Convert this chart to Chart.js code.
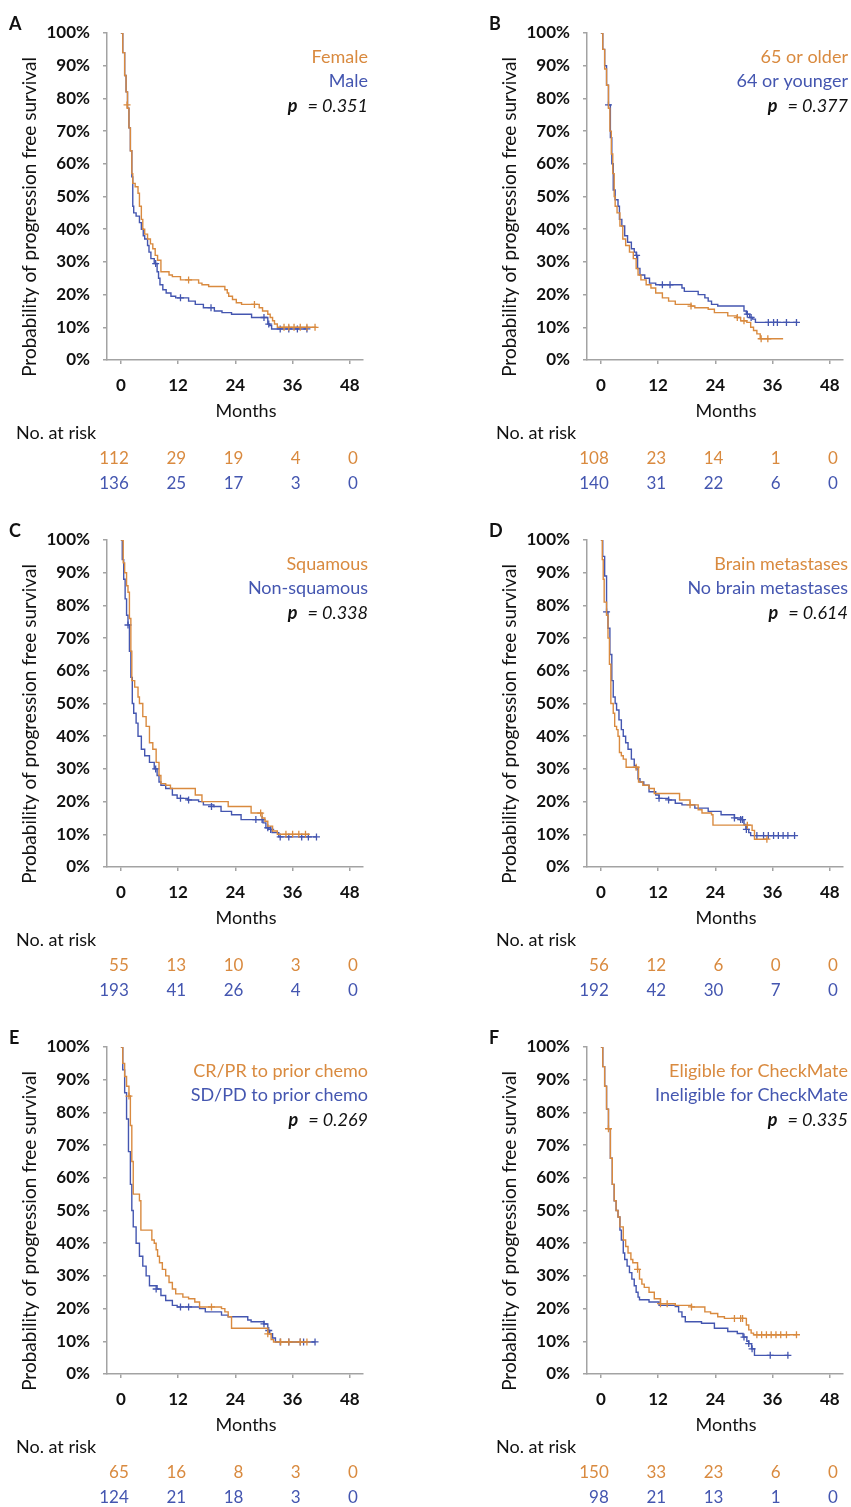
<!DOCTYPE html>
<html>
<head>
<meta charset="utf-8">
<script src="https://cdn.jsdelivr.net/npm/chart.js@4.4.0/dist/chart.umd.min.js"></script>
<style>
  html, body { margin: 0; padding: 0; background: #fff; }
  body { width: 851px; height: 1507px; position: relative; overflow: hidden; }
  .panel { position: absolute; width: 371px; height: 500px; }
</style>
</head>
<body>
<div class="panel" style="left:0;top:0"><canvas id="chartA" width="371" height="500"></canvas></div>
<div class="panel" style="left:480px;top:0"><canvas id="chartB" width="371" height="500"></canvas></div>
<div class="panel" style="left:0;top:507px"><canvas id="chartC" width="371" height="500"></canvas></div>
<div class="panel" style="left:480px;top:507px"><canvas id="chartD" width="371" height="500"></canvas></div>
<div class="panel" style="left:0;top:1014px"><canvas id="chartE" width="371" height="500"></canvas></div>
<div class="panel" style="left:480px;top:1014px"><canvas id="chartF" width="371" height="500"></canvas></div>
<script>
// Kaplan-Meier PFS panels ([month, % free])
const monthTicks = [0, 12, 24, 36, 48];

// A - sex
const aFemale = [[0,100],[0.4,94],[0.8,87],[1.1,82],[1.4,77],[1.7,71],[2.0,64],[2.3,57],[2.5,54],[3.0,53],[3.6,51],[3.9,47],[4.3,43],[4.6,40],[5.0,38.5],[5.6,37],[6.2,35.5],[6.7,34],[7.2,32],[7.7,30.5],[8.4,27],[10.1,26],[10.8,25.5],[12.5,24.5],[16.3,23.5],[17,23],[18.4,22.5],[21.8,21.5],[22.3,20.5],[22.6,19.5],[23.4,18.5],[24.2,17.5],[25.3,17],[29,16],[29.7,15],[30.8,14],[31.3,13],[31.8,12],[32.2,11],[32.8,10],[41,10]];
const aFemaleCens = [[1.3,78],[14.2,24.5],[28,17],[34.2,10],[35.2,10],[36.3,10],[37.6,10],[39,10],[40.7,10]];
const aMale = [[0,100],[0.4,94],[0.8,87],[1.1,82],[1.4,77],[1.7,71],[2.0,64],[2.3,56],[2.5,47],[2.7,45],[3.2,44],[3.9,42],[4.3,40],[4.7,38],[5.0,37],[5.6,35],[5.9,33],[6.3,31],[7.0,29.5],[7.6,27],[7.9,25],[8.2,23],[8.8,21.5],[9.5,20.5],[10.5,19.5],[11.5,19],[14.2,18],[15.6,17],[17.3,16],[19.6,15],[21.2,14.5],[23.2,14],[27.4,13],[30.8,11],[31.2,10.5],[31.6,9.5],[39,9.5]];
const aMaleCens = [[7.3,29.5],[12.5,19],[18.9,16],[30,13],[31,11],[33.4,9.5],[35.2,9.5],[37,9.5],[39,9.5]];
const aRiskTop = [112, 29, 19, 4, 0];
const aRiskBottom = [136, 25, 17, 3, 0];

// B - age
const bOlder = [[0,100],[0.4,95],[0.8,89],[1.2,84],[1.6,77],[1.9,70],[2.2,63],[2.5,57],[2.8,50],[3.0,47],[3.4,45],[4.0,41],[4.6,37],[5.2,35],[6.0,33],[6.8,31],[7.4,28],[7.8,26],[8.4,24.5],[9.5,23],[10.5,22],[11.5,20.5],[12.9,19],[14.2,18],[15.6,17],[18.9,16.5],[19.7,16],[22.5,15.5],[23.8,14.5],[26.6,13.5],[28.5,13],[29.3,12],[30.6,11.5],[31.4,10],[32,9],[32.7,8],[33.4,6.5],[38.2,6.5]];
const bOlderCens = [[18.9,16.5],[28.6,13],[30,12],[33.6,6.5],[35,6.5]];
const bYounger = [[0,100],[0.4,95],[0.8,90],[1.2,84],[1.6,78],[2.0,68],[2.3,60],[2.6,52],[3.0,49],[3.6,47],[3.9,43],[4.4,41],[5.0,38],[5.6,36],[6.4,34],[7.0,33],[7.4,32],[7.7,28],[8.2,26],[9.2,25],[10.2,23.5],[11.5,23],[17,22],[17.5,21],[20.4,20],[21.8,19],[22.5,18],[23.2,17],[24.5,16.5],[30.0,15],[30.5,14],[31.2,13],[31.8,12.5],[32.4,11.5],[41.2,11.5]];
const bYoungerCens = [[1.6,78],[7.5,32],[12.9,23],[14.5,23],[30.7,14],[31.5,13],[35.1,11.5],[36.2,11.5],[37,11.5],[38.9,11.5],[41,11.5]];
const bRiskTop = [108, 23, 14, 1, 0];
const bRiskBottom = [140, 31, 22, 6, 0];

// C - histology
const cSquamous = [[0,100],[0.5,93],[0.8,90],[1.2,86],[1.5,84],[1.8,76],[2.1,66],[2.3,57],[2.9,55],[3.6,52],[3.9,50],[4.6,46],[5.3,43],[6.0,38],[6.7,36],[7.4,32],[8.0,28],[8.4,25.5],[9.4,25],[10.4,24],[15.6,22],[17.0,20],[22.5,18.5],[27.3,16.5],[29.6,15],[30.2,14],[30.8,12.5],[31.8,11],[32.8,10],[39.6,10]];
const cSquamousCens = [[29.3,16.5],[34.6,10],[36,10],[37.3,10],[38.7,10]];
const cNonSquamous = [[0,100],[0.3,94],[0.6,88],[0.9,82],[1.2,77],[1.5,74],[1.8,66],[2.1,58],[2.4,50],[2.7,47],[3.2,44],[3.6,40],[4.3,36],[5.0,34],[6.0,32],[7.0,30],[7.6,28],[8.0,26],[8.4,25],[9.4,24],[10.8,22],[11.8,21],[14.0,20.5],[16.3,20],[17.3,19],[19.5,18.5],[21.0,17],[23.2,16],[25.2,14.5],[29.8,13.5],[30.4,12],[31.0,11.5],[31.7,10.5],[33.1,9.2],[41,9.2]];
const cNonSquamousCens = [[1.5,74],[7.3,30],[12.5,21],[14.2,20.5],[19,18.5],[28.3,14.5],[29.6,14.5],[30.8,12],[31.4,11.5],[33.4,9.2],[35.2,9.2],[37.9,9.2],[39.3,9.2],[41,9.2]];
const cRiskTop = [55, 13, 10, 3, 0];
const cRiskBottom = [193, 41, 26, 4, 0];

// D - brain metastases
const dBrain = [[0,100],[0.3,94],[0.5,88],[0.7,81],[1.2,77],[1.5,70],[1.8,62],[2.1,50],[2.6,47],[2.9,43],[3.3,42],[3.6,40],[3.9,35],[4.3,34],[4.7,33],[5.3,30.5],[7.6,30.5],[7.9,26],[8.8,25],[10.1,24],[11.2,22.5],[16.3,22.5],[16.5,20.5],[18.7,19],[20.4,17.5],[21.2,16.5],[23.2,16],[23.5,12.8],[30.7,12.8],[31.7,11.2],[32.2,8.5],[34.8,8.5]];
const dBrainCens = [[7.4,30.5],[18.7,19],[30.7,12.8],[34.8,8.5]];
const dNoBrain = [[0,100],[0.4,95],[0.8,89],[1.2,78],[1.5,73],[1.9,65],[2.3,57],[2.6,52],[3.0,50],[3.3,48],[3.8,45],[4.3,42],[4.7,40],[5.2,38],[5.7,36],[6.4,33],[7.0,31],[7.4,30],[7.8,27],[8.2,26],[9.0,25],[10.1,23],[11.5,22],[12.2,21],[14.2,20.5],[15.6,19.5],[17.0,19],[19.7,18],[22.5,17],[25.2,16],[28.0,15],[29.6,14.5],[30.0,13],[30.4,11.5],[31.0,10.5],[31.4,9.6],[40.6,9.6]];
const dNoBrainCens = [[1.2,78],[12.2,21],[14.2,20.5],[28,15],[29.3,14.5],[29.7,14.5],[30.5,11.5],[32.7,9.6],[34.1,9.6],[35.1,9.6],[36.2,9.6],[37.2,9.6],[38.2,9.6],[39.2,9.6],[40.6,9.6]];
const dRiskTop = [56, 12, 6, 0, 0];
const dRiskBottom = [192, 42, 30, 7, 0];

// E - response to prior chemo
const eResponse = [[0,100],[0.4,95],[0.8,91],[1.2,88],[1.7,85],[2.0,76],[2.3,65],[2.6,55],[3.9,53],[4.2,44],[6.3,44],[6.5,41],[7.0,40],[7.4,38],[7.7,36],[8.1,34],[8.7,32],[9.4,30],[10.1,28],[10.8,26],[11.5,24.5],[13,23.5],[14.2,23],[15.5,22],[16.5,20.5],[21.1,20],[21.8,19],[22.5,17.5],[23.2,14],[29.4,14],[30.8,12.3],[31.5,10.5],[32.0,9.8],[39,9.8]];
const eResponseCens = [[1.7,85],[19,20.5],[30.8,12.3],[33.5,9.8],[35.2,9.8],[37.6,9.8],[39,9.8]];
const eNoResponse = [[0,100],[0.4,93],[0.8,86],[1.2,78],[1.6,68],[2.0,58],[2.3,50],[2.6,45],[3.2,40],[3.9,36],[4.6,33],[5.3,30],[6.0,27],[7.6,26],[8.4,24],[9.4,22.5],[10.8,21],[11.8,20.5],[16.5,20],[17.7,19],[21.1,18],[22.5,17.5],[26.6,16.5],[27.3,16],[30.0,15.3],[30.8,13.3],[31.2,12.3],[31.8,11],[32.4,9.8],[40.7,9.8]];
const eNoResponseCens = [[7.4,26],[12.5,20.5],[14.2,20.5],[30,15.3],[31,13.3],[33.4,9.8],[35.2,9.8],[37.6,9.8],[38.3,9.8],[40.7,9.8]];
const eRiskTop = [65, 16, 8, 3, 0];
const eRiskBottom = [124, 21, 18, 3, 0];

// F - CheckMate eligibility
const fEligible = [[0,100],[0.4,94],[0.8,88],[1.2,81],[1.6,75],[2.0,66],[2.4,58],[2.8,53],[3.2,50],[3.6,48],[4.0,45],[4.7,41],[5.2,39],[5.7,37],[6.3,35],[6.7,34],[7.7,32],[8.1,29],[8.6,27.5],[9.1,26.5],[10.1,25],[11.2,23],[12.5,21.5],[15.6,21],[19,20.5],[21.8,19],[23.0,18.5],[24.5,17.5],[25.9,17],[30.0,17],[30.5,15],[31.0,13.5],[31.5,12.5],[32.0,12],[41,12]];
const fEligibleCens = [[1.6,75],[7.7,32],[12.5,21.5],[13.9,21.5],[19,20.5],[28,17],[29.3,17],[29.7,17],[32.7,12],[33.7,12],[34.7,12],[35.7,12],[36.7,12],[37.7,12],[38.9,12],[41,12]];
const fIneligible = [[0,100],[0.4,94],[0.8,88],[1.2,81],[1.6,75],[2.0,66],[2.4,58],[2.8,53],[3.2,50],[3.6,48],[4.0,44],[4.3,41],[4.7,37],[5.0,35],[5.5,33],[6.0,31],[6.5,29],[7.0,27],[7.4,25],[7.8,23.5],[8.1,22.7],[10.1,22],[12.2,21],[15.6,20.6],[16.3,19],[17.0,17.5],[17.7,16],[21.1,15.5],[23.8,14],[26.6,13],[28.6,12.4],[29.8,11.3],[30.6,10],[31.0,9.3],[31.6,7.7],[32.2,5.7],[39.2,5.7]];
const fIneligibleCens = [[30,11.3],[31,9.3],[31.7,7.7],[35.5,5.7],[39.2,5.7]];
const fRiskTop = [150, 33, 23, 6, 0];
const fRiskBottom = [98, 21, 13, 1, 0];

const ORANGE = '#D98A3F';
const BLUE = '#4456B0';
const AXIS = '#a3a3a3';
const FONT = 'Lato, "Open Sans", sans-serif';

const panels = [
  { id: 'chartA', letter: 'A', names: ['Female', 'Male'], p: '0.351', top: aFemale, topCens: aFemaleCens, bottom: aMale, bottomCens: aMaleCens, riskTop: aRiskTop, riskBottom: aRiskBottom },
  { id: 'chartB', letter: 'B', names: ['65 or older', '64 or younger'], p: '0.377', top: bOlder, topCens: bOlderCens, bottom: bYounger, bottomCens: bYoungerCens, riskTop: bRiskTop, riskBottom: bRiskBottom },
  { id: 'chartC', letter: 'C', names: ['Squamous', 'Non-squamous'], p: '0.338', top: cSquamous, topCens: cSquamousCens, bottom: cNonSquamous, bottomCens: cNonSquamousCens, riskTop: cRiskTop, riskBottom: cRiskBottom },
  { id: 'chartD', letter: 'D', names: ['Brain metastases', 'No brain metastases'], p: '0.614', top: dBrain, topCens: dBrainCens, bottom: dNoBrain, bottomCens: dNoBrainCens, riskTop: dRiskTop, riskBottom: dRiskBottom },
  { id: 'chartE', letter: 'E', names: ['CR/PR to prior chemo', 'SD/PD to prior chemo'], p: '0.269', top: eResponse, topCens: eResponseCens, bottom: eNoResponse, bottomCens: eNoResponseCens, riskTop: eRiskTop, riskBottom: eRiskBottom },
  { id: 'chartF', letter: 'F', names: ['Eligible for CheckMate', 'Ineligible for CheckMate'], p: '0.335', top: fEligible, topCens: fEligibleCens, bottom: fIneligible, bottomCens: fIneligibleCens, riskTop: fRiskTop, riskBottom: fRiskBottom }
];

const toXY = pts => pts.map(([x, y]) => ({ x: x, y: y }));

// Labels, legend text and the risk table, placed with the x scale
const kmText = {
  id: 'kmText',
  afterDraw(chart, args, opts) {
    const ctx = chart.ctx;
    const xs = chart.scales.x;
    ctx.save();
    ctx.textBaseline = 'middle';

    ctx.fillStyle = '#111';
    ctx.font = 'bold 18px ' + FONT;
    ctx.textAlign = 'left';
    ctx.fillText(opts.letter, 9, 24);

    ctx.save();
    ctx.translate(30, 217);
    ctx.rotate(-Math.PI / 2);
    ctx.textAlign = 'center';
    ctx.font = '19px ' + FONT;
    ctx.fillText('Probability of progression free survival', 0, 0);
    ctx.restore();

    ctx.textAlign = 'center';
    ctx.font = '18px ' + FONT;
    ctx.fillText('Months', 246, 411);
    ctx.textAlign = 'left';
    ctx.font = '18px ' + FONT;
    ctx.fillText('No. at risk', 16, 433);

    // legend block
    ctx.textAlign = 'right';
    ctx.font = '18px ' + FONT;
    ctx.fillStyle = ORANGE;
    ctx.fillText(opts.names[0], 368, 57);
    ctx.fillStyle = BLUE;
    ctx.fillText(opts.names[1], 368, 81);
    ctx.fillStyle = '#111';
    ctx.font = 'italic 18px ' + FONT;
    const rest = '= ' + opts.p;
    ctx.fillText(rest, 368, 106);
    const w = ctx.measureText(rest).width;
    ctx.font = 'italic bold 18px ' + FONT;
    ctx.fillText('p', 368 - w - 10, 106);

    // numbers at risk
    ctx.font = '17px ' + FONT;
    monthTicks.forEach((t, i) => {
      const px = xs.getPixelForValue(t) + 8;
      ctx.fillStyle = ORANGE;
      ctx.fillText(String(opts.riskTop[i]), px, 459);
      ctx.fillStyle = BLUE;
      ctx.fillText(String(opts.riskBottom[i]), px, 484);
    });
    ctx.restore();
  }
};

function makePanel(p) {
  const ctx = document.getElementById(p.id).getContext('2d');
  return new Chart(ctx, {
    type: 'line',
    data: {
      datasets: [
        { data: toXY(p.top), borderColor: ORANGE, borderWidth: 1.4, stepped: true, pointRadius: 0, fill: false },
        { data: toXY(p.topCens), showLine: false, pointStyle: 'cross', pointRadius: 3.5, borderColor: ORANGE, backgroundColor: ORANGE, pointBorderWidth: 1.3 },
        { data: toXY(p.bottom), borderColor: BLUE, borderWidth: 1.4, stepped: true, pointRadius: 0, fill: false },
        { data: toXY(p.bottomCens), showLine: false, pointStyle: 'cross', pointRadius: 3.5, borderColor: BLUE, backgroundColor: BLUE, pointBorderWidth: 1.3 }
      ]
    },
    options: {
      responsive: false,
      animation: false,
      events: [],
      layout: { padding: { left: 0, top: 33, right: 4, bottom: 100 } },
      scales: {
        x: {
          type: 'linear',
          min: -2.9,
          max: 50.7,
          afterBuildTicks: axis => { axis.ticks = monthTicks.map(v => ({ value: v })); },
          afterFit: axis => { axis.height = 40; },
          grid: { drawOnChartArea: false, drawTicks: true, tickLength: 4, color: AXIS, lineWidth: 1.5 },
          border: { display: true, color: AXIS, width: 1.5 },
          ticks: { color: '#111', padding: 11, maxRotation: 0, font: { family: FONT, size: 17, weight: 'bold' } }
        },
        y: {
          min: 0,
          max: 100,
          afterFit: axis => { axis.width = 107; },
          grid: { drawOnChartArea: false, drawTicks: true, tickLength: 4, color: AXIS, lineWidth: 1.5 },
          border: { display: true, color: AXIS, width: 1.5 },
          ticks: { stepSize: 10, color: '#111', padding: 13, font: { family: FONT, size: 17, weight: 'bold' }, callback: v => v + '%' }
        }
      },
      plugins: {
        legend: { display: false },
        tooltip: { enabled: false },
        kmText: { letter: p.letter, names: p.names, p: p.p, riskTop: p.riskTop, riskBottom: p.riskBottom }
      }
    },
    plugins: [kmText]
  });
}

panels.forEach(makePanel);
</script>
</body>
</html>
